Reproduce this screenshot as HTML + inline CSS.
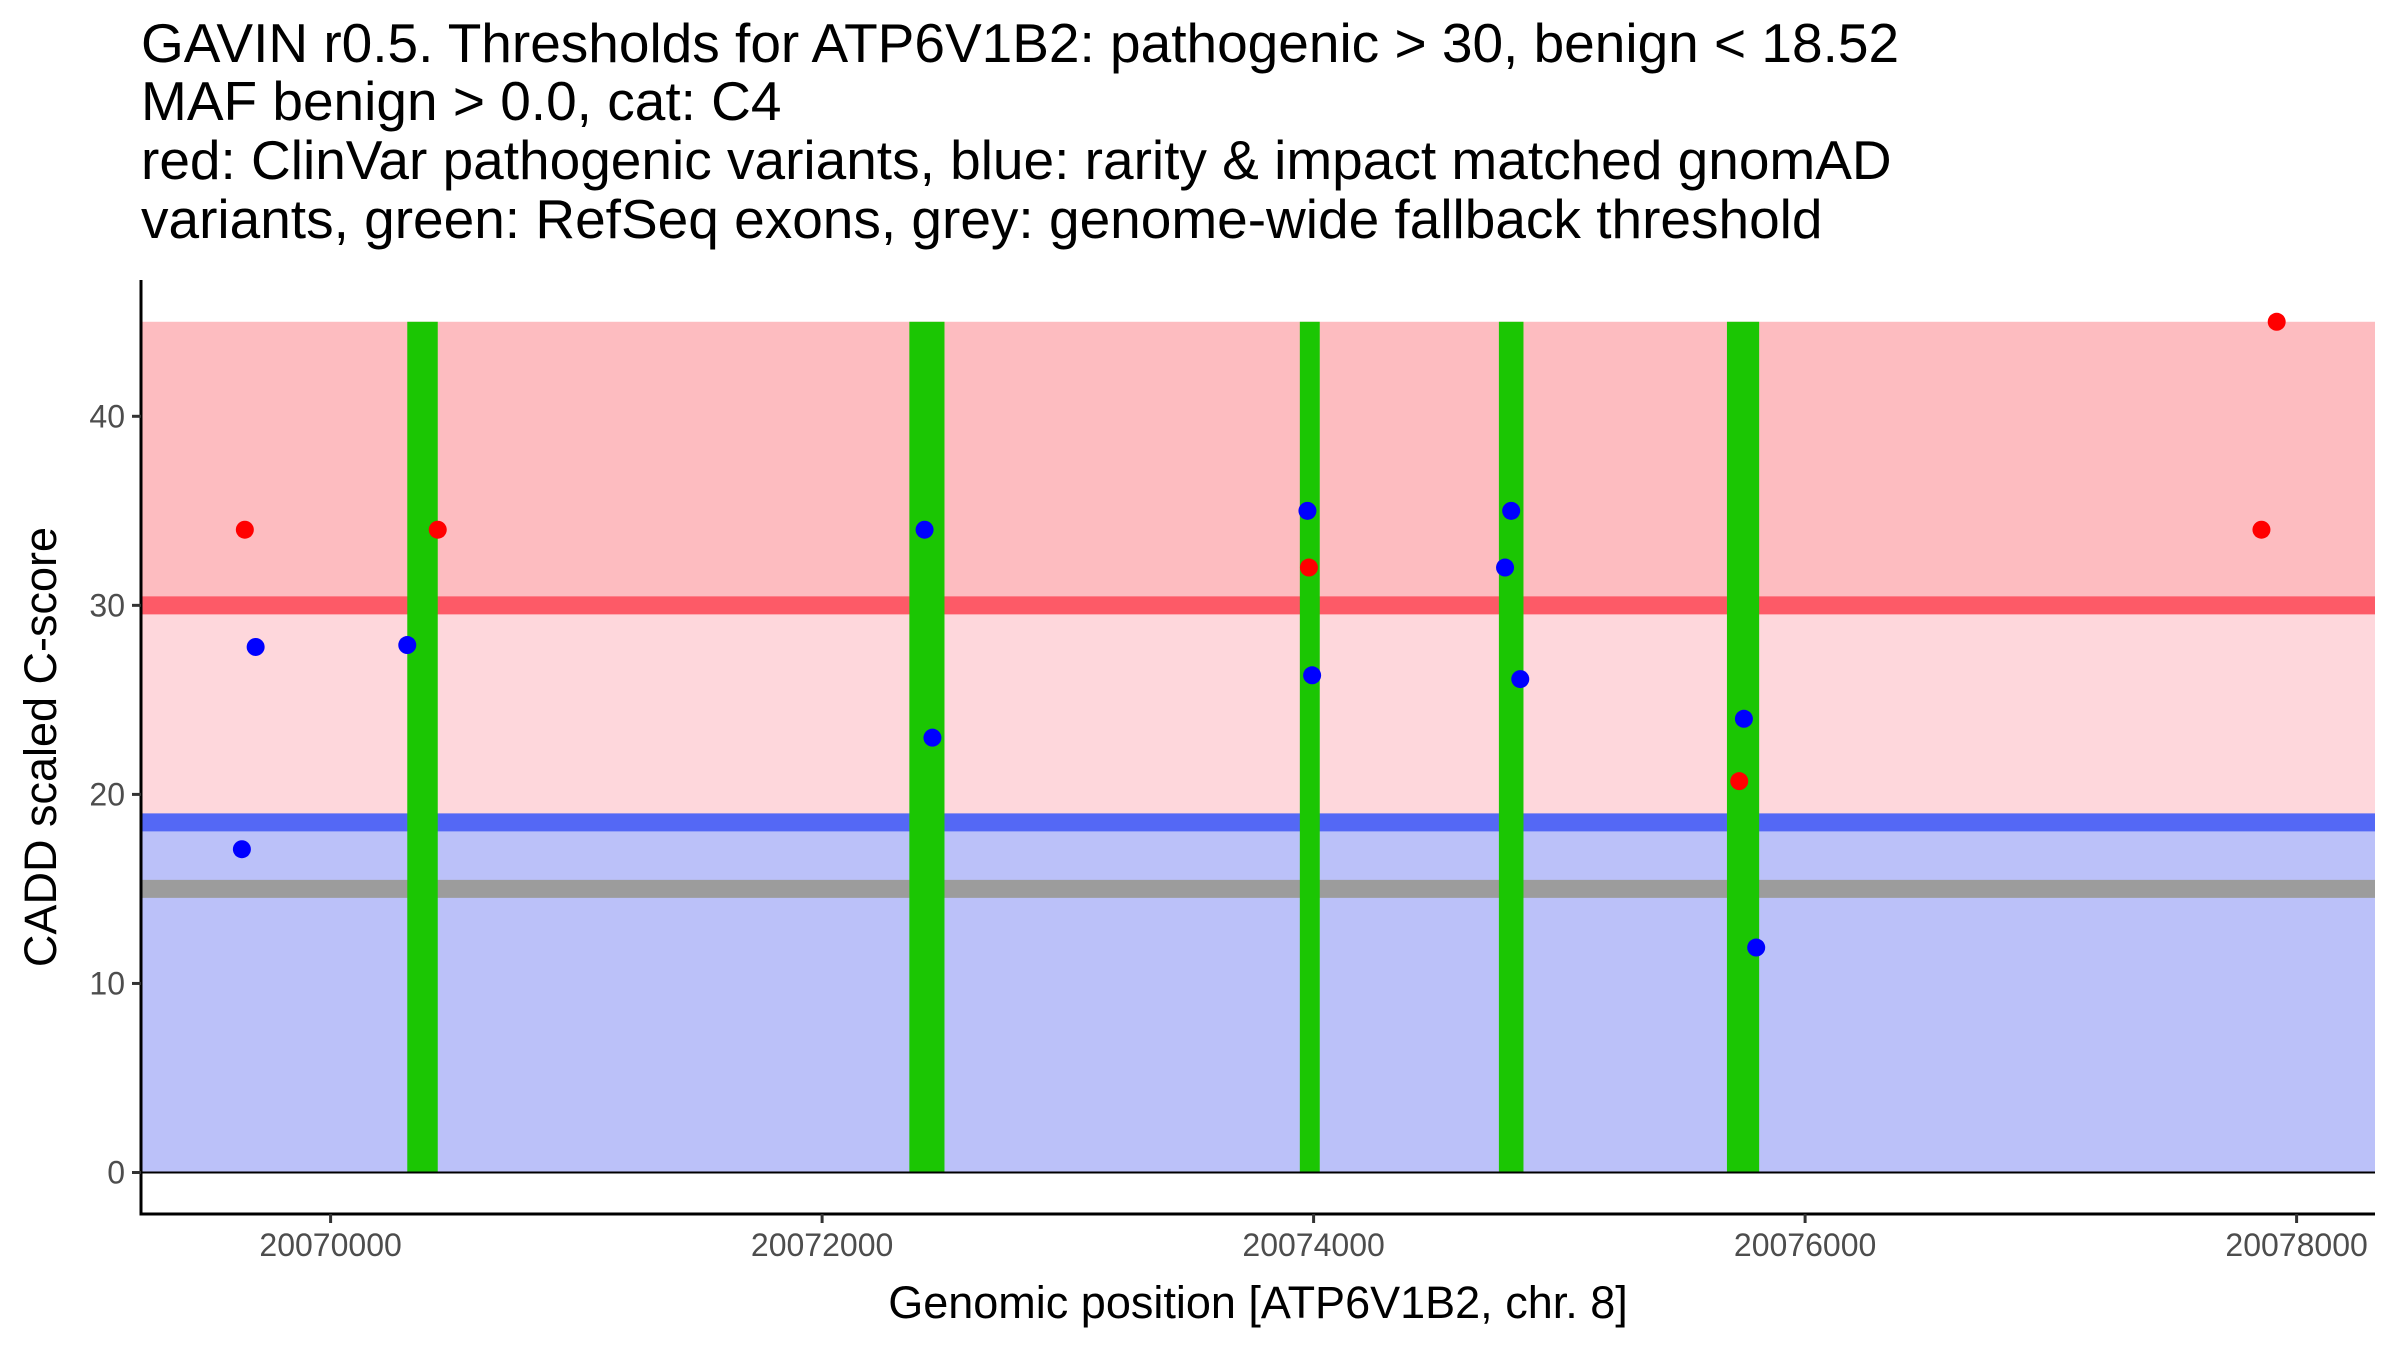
<!DOCTYPE html>
<html><head><meta charset="utf-8"><style>
html,body{margin:0;padding:0;background:#fff;}
svg{display:block;font-family:"Liberation Sans",Arial,sans-serif;}
</style></head><body>
<svg id="chart" width="2400" height="1350" viewBox="0 0 2400 1350" xmlns="http://www.w3.org/2000/svg">
<g font-size="55" fill="#000">
<text x="141" y="62">GAVIN r0.5. Thresholds for ATP6V1B2: pathogenic &gt; 30, benign &lt; 18.52</text>
<text x="141" y="120">MAF benign &gt; 0.0, cat: C4</text>
<text x="141" y="179">red: ClinVar pathogenic variants, blue: rarity &amp; impact matched gnomAD</text>
<text x="141" y="238">variants, green: RefSeq exons, grey: genome-wide fallback threshold</text>
</g>
<g id="plot"></g>
</svg>
<script>
const yTicks=[0,10,20,30,40];
const xTicks=[20070000,20072000,20074000,20076000,20078000];
const pathThr=30, benThr=18.52, fallbackThr=15, yMaxBand=45;
const exonStart=[20070312,20072355,20073944,20074754,20075682];
const exonEnd=[20070436,20072498,20074025,20074854,20075813];
const redX=[20069651,20070436,20073981,20075732,20077857,20077919];
const redY=[34,34,32,20.7,34,45];
const blueX=[20069639,20069695,20070312,20072417,20072449,20073975,20073994,20074779,20074804,20074841,20075751,20075801];
const blueY=[17.1,27.8,27.9,34,23,35,26.3,32,35,26.1,24,11.9];

const NS="http://www.w3.org/2000/svg";
const L=141,R=2375,T=280,B=1214;
function X(v){return 330.6+(v-20070000)*0.24575;}
function Y(v){return 1172.5-v*18.905;}
const g=document.getElementById('plot');
function mk(tag,a){const e=document.createElementNS(NS,tag);for(const k in a)e.setAttribute(k,a[k]);g.appendChild(e);return e;}
let e;
e=mk('rect',{x:L,y:Y(yMaxBand),width:R-L,height:Y(pathThr)-Y(yMaxBand),fill:'#fdbcc0'});


e=mk('rect',{x:L,y:Y(pathThr),width:R-L,height:Y(benThr)-Y(pathThr),fill:'#fed7dc'});


e=mk('rect',{x:L,y:Y(benThr),width:R-L,height:Y(0)-Y(benThr),fill:'#bbc1f9'});


e=mk('line',{x1:L,x2:R,y1:Y(pathThr),y2:Y(pathThr),stroke:'#fd5a67','stroke-width':18});


e=mk('line',{x1:L,x2:R,y1:Y(benThr),y2:Y(benThr),stroke:'#5468f5','stroke-width':18});


e=mk('line',{x1:L,x2:R,y1:Y(fallbackThr),y2:Y(fallbackThr),stroke:'#9c9c9c','stroke-width':18});


for(let i=0;i<exonStart.length;i++){
 e=mk('rect',{x:X(exonStart[i]),y:Y(yMaxBand),width:X(exonEnd[i])-X(exonStart[i]),height:Y(0)-Y(yMaxBand),fill:'#1bc603'});
 
 
}
e=mk('line',{x1:L,x2:R,y1:Y(0),y2:Y(0),stroke:'#000','stroke-width':2});


for(let i=0;i<redX.length;i++){
 e=mk('circle',{cx:X(redX[i]),cy:Y(redY[i]),r:9,fill:'#ff0000'});
 
 
}
for(let i=0;i<blueX.length;i++){
 e=mk('circle',{cx:X(blueX[i]),cy:Y(blueY[i]),r:9,fill:'#0000ff'});
 
 
}
e=mk('line',{x1:L,x2:L,y1:T,y2:B+1.5,stroke:'#000','stroke-width':3});


e=mk('line',{x1:L-1.5,x2:R,y1:B,y2:B,stroke:'#000','stroke-width':3});


yTicks.forEach(v=>{
 e=mk('line',{x1:L-9,x2:L,y1:Y(v),y2:Y(v),stroke:'#333','stroke-width':3});
 
 
 e=mk('text',{x:L-16,y:Y(v)+11,'text-anchor':'end','font-size':32,fill:'#4d4d4d'});
 e.textContent=v;
 
 
});
xTicks.forEach(v=>{
 e=mk('line',{x1:X(v),x2:X(v),y1:B,y2:B+9,stroke:'#333','stroke-width':3});
 
 
 e=mk('text',{x:X(v),y:B+42,'text-anchor':'middle','font-size':32,fill:'#4d4d4d'});
 e.textContent=v;
 
 
});
e=mk('text',{x:(L+R)/2,y:1318,'text-anchor':'middle','font-size':45,fill:'#000'});
e.textContent='Genomic position [ATP6V1B2, chr. 8]';


e=mk('text',{x:0,y:0,'text-anchor':'middle','font-size':45,fill:'#000',transform:'translate(56,747) rotate(-90)'});
e.textContent='CADD scaled C-score';


</script>
</body></html>
